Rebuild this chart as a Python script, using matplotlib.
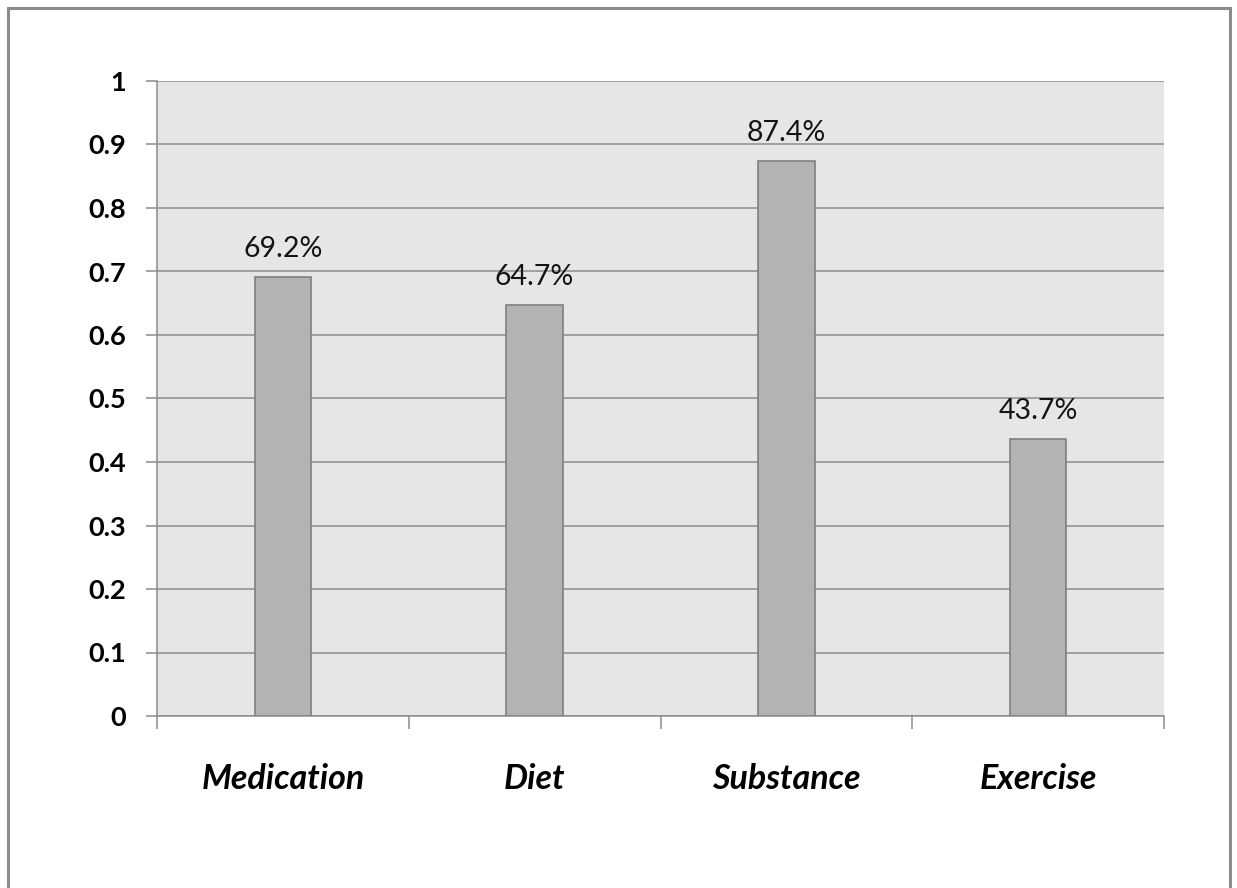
import matplotlib
matplotlib.use("Agg")
import matplotlib.pyplot as plt
from matplotlib.patches import Rectangle
import numpy as np

categories = ["Medication", "Diet", "Substance", "Exercise"]
values = [0.692, 0.647, 0.874, 0.437]
yticks = [0, 0.1, 0.2, 0.3, 0.4, 0.5, 0.6, 0.7, 0.8, 0.9, 1]
ytick_labels = ["0", "0.1", "0.2", "0.3", "0.4", "0.5", "0.6", "0.7", "0.8", "0.9", "1"]

W, H = 1237, 888
fig = plt.figure(figsize=(W / 100, H / 100), dpi=100)
fig.patch.set_facecolor("white")

# outer chart frame
fig.patches.append(Rectangle((8 / W, -0.05), (1230 - 8) / W, (H - 8) / H + 0.05,
                             transform=fig.transFigure, fill=False,
                             edgecolor="#8c8c8c", linewidth=2.2))

left, right, top, bottom = 157, 1164, 81, 716
ax = fig.add_axes([left / W, 1 - bottom / H, (right - left) / W, (bottom - top) / H])
ax.set_facecolor("#e6e6e6")

x = np.arange(len(categories))
ax.bar(x, values, width=0.225, color="#b3b3b3", edgecolor="#7f7f7f",
       linewidth=1.2, zorder=3)

ax.set_xlim(-0.5, len(categories) - 0.5)
ax.set_ylim(0, 1)
ax.set_yticks(yticks)
ax.set_yticklabels(ytick_labels, fontfamily="Lato", fontweight="bold", fontsize=19.5)
ax.yaxis.grid(True, color="#8c8c8c", linewidth=1.1, zorder=1)
ax.set_axisbelow(True)

ax.set_xticks(x)
ax.set_xticklabels(categories, fontfamily="Lato", fontweight="bold",
                   fontstyle="italic", fontsize=24.5)
ax.tick_params(axis="x", length=0, pad=34)
ax.set_xticks(np.arange(len(categories) + 1) - 0.5, minor=True)
ax.tick_params(axis="x", which="minor", length=9.4, width=1.1, color="#8c8c8c")
ax.tick_params(axis="y", length=8, width=1.1, color="#8c8c8c", pad=14)

for side in ["top", "right"]:
    ax.spines[side].set_visible(False)
for side in ["left", "bottom"]:
    ax.spines[side].set_color("#8c8c8c")
    ax.spines[side].set_linewidth(1.1)

for xi, v in zip(x, values):
    ax.annotate(f"{v * 100:.1f}%", (xi, v), xytext=(0, 14.4), textcoords="offset points",
                ha="center", va="baseline", fontfamily="Lato", fontsize=20.5,
                color="#141414")

fig.savefig("out.png", dpi=100)
